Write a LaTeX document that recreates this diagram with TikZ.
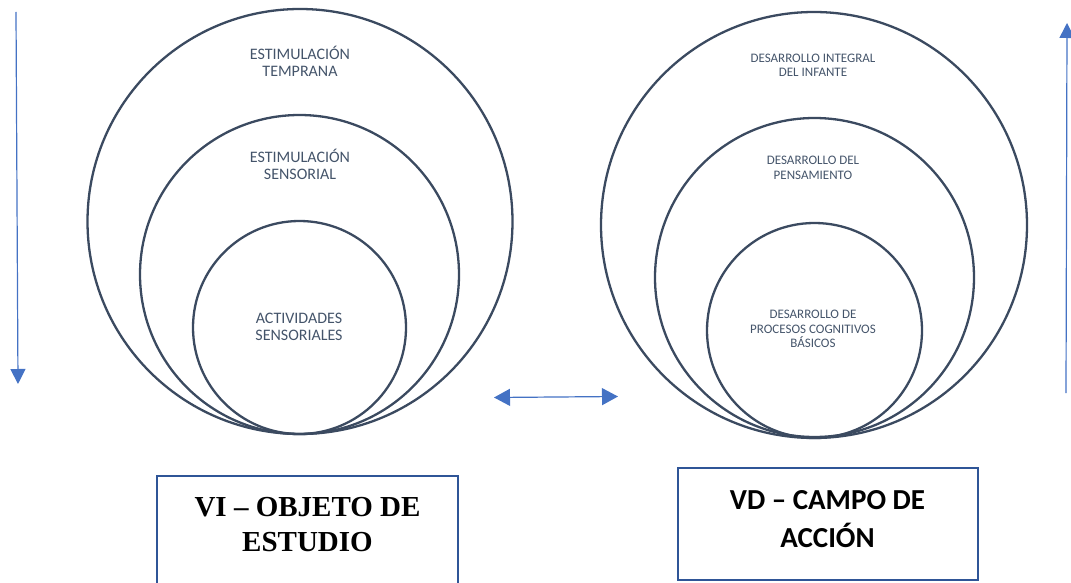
\documentclass[tikz,border=0pt]{standalone}
\usepackage{fontspec}
\setmainfont{Carlito}
\newfontfamily\timesfont{Liberation Serif}
\usetikzlibrary{arrows.meta}
\definecolor{ringcol}{HTML}{3B4A60}
\definecolor{txtcol}{HTML}{44546A}
\definecolor{arrcol}{HTML}{4472C4}
\definecolor{boxcol}{HTML}{2F5597}
\begin{document}
\begin{tikzpicture}[x=1pt,y=-1pt,
  ring/.style={draw=ringcol,line width=2.3pt,circle,minimum size=#1,inner sep=0pt},
  biglbl/.style={text=txtcol,align=center,inner sep=0pt,font=\fontsize{16}{17}\selectfont},
  smalllbl/.style={text=txtcol,align=center,inner sep=0pt,font=\fontsize{13}{14.5}\selectfont},
  arrowline/.style={draw=arrcol,line width=1.2pt,-{Triangle[length=15pt,width=15pt]}},
  dblarrow/.style={draw=arrcol,line width=1.2pt,{Triangle[length=16pt,width=17pt]}-{Triangle[length=16pt,width=17pt]}},
  boxst/.style={draw=boxcol,line width=2pt,rectangle,inner sep=0pt}]
\useasboundingbox (0,0) rectangle (1071,583);
\clip (0,0) rectangle (1071,583);
% left circles
\node[ring=425pt] (lo) at (300,221.5) {};
\node[ring=319pt] (lm) at (299.5,274.5) {};
\node[ring=213pt] (li) at (299.5,327.5) {};
\node[biglbl] (lot) at (300,61.5) {ESTIMULACIÓN\\TEMPRANA};
\node[biglbl] (lmt) at (300,164.5) {ESTIMULACIÓN\\SENSORIAL};
\node[biglbl] (lit) at (299,326.5) {ACTIVIDADES\\SENSORIALES};
% right circles
\node[ring=426pt] (ro) at (814,225) {};
\node[ring=319pt] (rm) at (814.5,277.5) {};
\node[ring=215pt] (ri) at (814.5,330.5) {};
\node[smalllbl] (rot) at (813,65.5) {DESARROLLO INTEGRAL\\DEL INFANTE};
\node[smalllbl] (rmt) at (813,168) {DESARROLLO DEL\\PENSAMIENTO};
\node[smalllbl] (rit) at (813,329) {DESARROLLO DE\\PROCESOS COGNITIVOS\\BÁSICOS};
% arrows
\coordinate (la1) at (16,12);
\coordinate (la2) at (18,384);
\draw[arrowline] (la1) -- (la2);
\coordinate (ra1) at (1066,393);
\coordinate (ra2) at (1067,23);
\draw[arrowline] (ra1) -- (ra2);
\coordinate (ma1) at (494,397.5);
\coordinate (ma2) at (618,396.5);
\draw[dblarrow] (ma1) -- (ma2);
% boxes
\node[boxst,minimum width=301pt,minimum height=130pt] (lb) at (307.5,541) {};
\node[align=center,inner sep=0pt,font=\timesfont\bfseries\fontsize{29}{35}\selectfont] (lbt) at (307.5,524.5) {VI – OBJETO DE\\ESTUDIO};
\node[boxst,minimum width=300pt,minimum height=112pt] (rb) at (828,524) {};
\node[align=center,inner sep=0pt,font=\bfseries\fontsize{29}{38}\selectfont] (rbt) at (827.5,519) {VD – CAMPO DE\\ACCIÓN};
\end{tikzpicture}
\end{document}
